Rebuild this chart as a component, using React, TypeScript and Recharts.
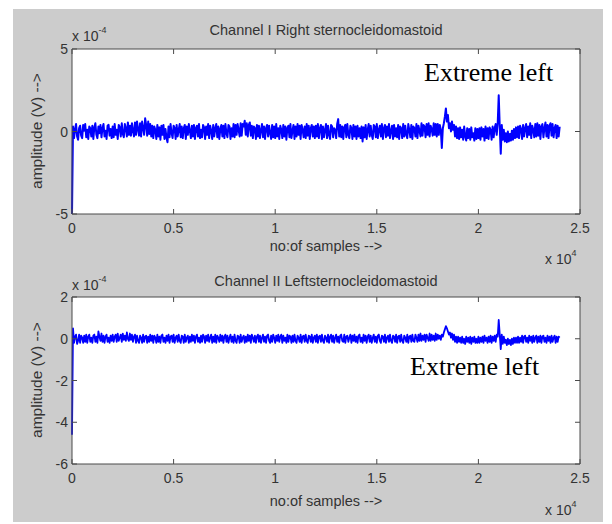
import { CartesianGrid, Line, LineChart, ReferenceLine, XAxis, YAxis } from 'recharts';

// one value every SAMPLE_STEP samples, values in units of 1e-4 V
const SAMPLE_STEP = 50;

const rightChannel = [
  -5.0, 0.3, -0.4, 0.15, 0.45, -0.3, -0.5, 0.2, 0.35, -0.25, -0.4, 0.4, 0.05, 0.45, -0.35, 0.1, -0.45, 0.3, 0.2, -0.3,
  0.35, -0.45, 0.25, 0.5, -0.2, -0.4, 0.3, -0.1, 0.4, -0.35, 0.2, 0.45, -0.3, 0.05, -0.45, 0.35, 0.4, -0.25, 0.15, -0.4,
  0.3, -0.35, 0.45, -0.2, 0.1, -0.45, 0.4, 0.25, -0.3, 0.5, -0.15, -0.35, 0.45, 0.2, -0.3, 0.55, -0.2, 0.35, -0.25, 0.5,
  0.05, -0.3, 0.55, -0.2, 0.6, 0.15, -0.25, 0.5, -0.3, 0.6, 0.2, -0.2, 0.8, 0.4, -0.25, 0.6, -0.15, 0.45, -0.3, 0.35,
  -0.4, 0.3, 0.1, -0.45, 0.4, -0.3, 0.25, -0.5, 0.35, -0.2, 0.4, -0.45, 0.15, -0.4, -0.65, 0.3, -0.35, 0.45, -0.1, -0.4,
  0.35, 0.2, -0.45, 0.4, -0.3, 0.1, 0.45, -0.35, 0.3, -0.4, 0.2, 0.4, -0.45, 0.3, -0.2, 0.45, 0.05, -0.4, 0.35, -0.3,
  0.4, -0.45, 0.2, 0.35, -0.3, 0.45, -0.4, 0.1, -0.35, 0.4, 0.25, -0.45, 0.3, -0.2, 0.45, -0.4, 0.35, 0.05, -0.45, 0.4,
  -0.3, 0.2, 0.45, -0.35, 0.3, -0.45, 0.15, 0.4, -0.3, 0.35, -0.4, 0.45, -0.1, -0.35, 0.4, 0.3, -0.45, 0.2, -0.3, 0.45,
  -0.35, 0.4, -0.2, 0.45, 0.1, -0.3, 0.5, -0.25, 0.45, 0.3, 0.65, -0.2, 0.5, -0.3, 0.4, 0.55, -0.25, 0.35, -0.4, 0.3,
  0.2, -0.45, 0.4, -0.3, 0.35, -0.4, 0.1, 0.45, -0.35, 0.3, -0.45, 0.2, 0.4, -0.3, 0.35, -0.1, -0.45, 0.4, -0.35, 0.3,
  -0.4, 0.45, -0.3, 0.2, -0.45, 0.35, 0.1, -0.4, 0.4, -0.3, 0.3, -0.5, 0.2, 0.35, -0.35, 0.45, -0.4, 0.05, 0.4, -0.45,
  0.3, -0.3, 0.45, -0.2, 0.35, -0.45, 0.4, 0.1, -0.35, 0.3, -0.4, 0.45, -0.25, 0.35, -0.45, 0.2, 0.4, -0.3, 0.3, -0.4,
  0.35, -0.3, 0.45, -0.4, 0.2, 0.4, -0.45, 0.3, -0.35, 0.1, 0.45, -0.4, 0.35, -0.2, -0.45, 0.4, 0.3, -0.35, 0.2, 0.1,
  -0.4, 0.45, 0.75, -0.3, 0.4, -0.35, 0.3, -0.45, 0.25, 0.4, -0.35, 0.45, -0.2, -0.4, 0.35, 0.2, -0.45, 0.4, -0.3, 0.3,
  -0.45, 0.35, -0.3, 0.2, -0.4, 0.3, -0.6, 0.25, -0.35, 0.4, -0.45, 0.1, 0.45, -0.3, 0.35, -0.2, -0.45, 0.4, 0.3, -0.35,
  0.45, -0.4, 0.1, 0.35, -0.3, 0.45, -0.45, 0.2, 0.4, -0.35, 0.3, -0.25, 0.45, -0.4, 0.05, 0.35, -0.45, 0.4, -0.3, 0.2,
  -0.35, 0.4, -0.45, 0.3, 0.2, -0.4, 0.45, -0.3, 0.35, -0.2, -0.4, 0.45, 0.1, -0.35, 0.4, -0.45, 0.3, 0.2, -0.3, 0.45,
  -0.4, 0.35, 0.05, -0.3, 0.5, -0.25, 0.4, 0.3, -0.35, 0.45, -0.2, 0.5, -0.3, 0.35, 0.15, -0.25, 0.5, -0.2, 0.45, -0.3,
  0.45, -0.2, 0.4, 0.1, -1.0, 0.2, 0.5, 0.9, 1.4, 0.6, 1.0, 0.2, 0.5, 0.0, 0.6, 0.1, 0.4, -0.3, 0.3, -0.4,
  0.2, -0.45, 0.25, -0.35, 0.1, -0.5, 0.3, -0.3, -0.55, 0.2, -0.4, 0.15, -0.5, 0.25, -0.35, -0.1, -0.55, 0.2, -0.45, 0.15,
  -0.4, 0.2, -0.5, 0.25, -0.3, 0.15, -0.55, 0.3, -0.4, 0.2, -0.45, 0.25, 0.1, -0.5, 0.3, -0.35, 0.2, 0.45, -0.2, 0.5,
  2.2, 0.3, -1.35, 0.4, -0.5, 0.1, -0.6, -0.1, -0.65, 0.0, -0.6, -0.15, -0.55, 0.05, -0.5, 0.15, -0.4, 0.25, -0.35, 0.3,
  -0.4, 0.35, 0.15, -0.45, 0.4, -0.3, 0.2, 0.45, -0.35, 0.3, -0.2, 0.5, -0.4, 0.35, 0.1, -0.35, 0.45, -0.3, 0.5, -0.25,
  0.4, -0.45, 0.3, 0.45, -0.35, 0.2, 0.55, -0.3, 0.4, -0.4, 0.35, 0.5, -0.25, 0.45, -0.35, 0.2, 0.4, -0.4, 0.35, -0.3,
  0.3,
];

const leftChannel = [
  -4.6, 0.5, -0.2, 0.1, 0.2, -0.25, -0.1, 0.2, -0.2, 0.15, 0.05, -0.2, 0.15, -0.15, 0.2, -0.2, 0.1, 0.2, -0.15, 0.05,
  -0.2, 0.15, 0.2, -0.15, 0.1, -0.2, 0.35, 0.1, -0.1, 0.25, -0.15, 0.15, -0.2, 0.1, 0.2, -0.15, 0.05, -0.2, 0.15, -0.1,
  0.2, -0.15, 0.1, 0.2, -0.15, 0.25, -0.1, 0.05, 0.2, -0.15, 0.25, -0.05, 0.15, -0.1, 0.3, 0.0, -0.1, 0.25, -0.05, 0.2,
  -0.15, 0.1, 0.2, -0.2, 0.15, -0.1, -0.2, 0.15, 0.05, -0.2, 0.2, -0.15, 0.1, 0.15, -0.2, 0.1, -0.15, 0.2, -0.1, 0.15,
  -0.2, 0.15, 0.05, -0.2, 0.2, -0.15, 0.1, -0.2, 0.15, 0.2, -0.15, 0.05, -0.2, 0.15, -0.1, 0.2, -0.2, 0.1, 0.15, -0.15,
  0.2, -0.2, 0.05, 0.15, -0.15, 0.2, -0.1, -0.2, 0.15, 0.1, -0.2, 0.2, -0.15, 0.05, 0.15, -0.2, 0.1, -0.15, 0.2, -0.1,
  0.15, -0.2, 0.1, 0.2, -0.15, 0.05, -0.2, 0.15, -0.15, 0.2, 0.1, -0.2, 0.15, -0.1, 0.2, -0.15, 0.05, 0.2, -0.2, 0.1,
  -0.15, 0.2, -0.2, 0.15, 0.05, -0.15, 0.2, -0.1, 0.15, -0.2, 0.1, 0.2, -0.15, 0.15, -0.2, 0.05, 0.2, -0.15, 0.1, -0.2,
  0.2, -0.1, -0.2, 0.15, 0.1, -0.2, 0.2, -0.15, 0.05, 0.15, -0.2, 0.1, -0.15, 0.2, -0.1, 0.15, -0.2, 0.2, 0.05, -0.15,
  0.15, -0.2, 0.1, 0.2, -0.15, 0.15, -0.2, 0.05, 0.2, -0.15, 0.1, -0.2, 0.15, 0.2, -0.1, -0.2, 0.15, -0.15, 0.2, 0.05,
  -0.2, 0.15, -0.1, 0.2, -0.15, 0.1, 0.2, -0.2, 0.15, -0.1, 0.05, -0.2, 0.2, -0.15, 0.15, 0.1, -0.2, 0.15, -0.15, 0.2,
  -0.1, -0.2, 0.15, 0.05, -0.15, 0.2, -0.2, 0.1, 0.15, -0.15, 0.2, -0.1, -0.2, 0.15, 0.1, -0.15, 0.2, -0.2, 0.05, 0.15,
  -0.15, 0.2, -0.2, 0.1, 0.15, -0.15, 0.2, -0.1, -0.2, 0.15, 0.05, -0.15, 0.2, -0.2, 0.1, 0.2, -0.15, 0.15, -0.2, 0.05,
  0.2, -0.15, 0.1, -0.2, 0.15, 0.2, -0.1, -0.15, 0.2, -0.2, 0.1, 0.15, -0.15, 0.05, 0.2, -0.2, 0.15, -0.1, 0.2, -0.15,
  0.1, -0.2, 0.15, 0.2, -0.15, 0.05, -0.2, 0.2, -0.1, 0.15, -0.2, 0.1, 0.2, -0.15, 0.15, -0.2, 0.05, 0.2, -0.15, 0.1,
  -0.2, 0.15, 0.2, -0.1, -0.2, 0.15, 0.1, -0.15, 0.2, -0.2, 0.05, 0.15, -0.15, 0.2, -0.1, -0.2, 0.15, 0.1, -0.15, 0.2,
  -0.2, 0.1, 0.15, -0.15, 0.2, -0.1, -0.2, 0.15, 0.05, -0.15, 0.2, -0.2, 0.1, 0.15, -0.15, 0.2, -0.1, -0.15, 0.2, 0.05,
  -0.15, 0.2, -0.1, 0.25, -0.1, 0.15, -0.05, 0.2, -0.15, 0.2, 0.05, -0.1, 0.25, -0.1, 0.2, -0.05, 0.15, -0.1, 0.25, -0.05,
  0.2, 0.0, 0.15, -0.05, 0.2, 0.1, 0.3, 0.45, 0.6, 0.5, 0.35, 0.2, 0.3, 0.05, 0.25, -0.05, 0.2, -0.15, 0.1, -0.2,
  0.1, -0.15, 0.05, -0.2, 0.1, -0.2, 0.0, -0.25, 0.1, -0.15, 0.05, -0.2, 0.1, -0.25, 0.05, -0.15, 0.1, -0.2, 0.0, -0.2,
  0.1, -0.2, 0.05, -0.15, 0.1, -0.2, 0.15, -0.1, 0.05, -0.2, 0.1, -0.15, 0.15, -0.2, 0.1, -0.1, 0.15, -0.15, 0.2, 0.1,
  0.9, 0.2, -0.5, 0.2, -0.25, 0.1, -0.2, -0.05, -0.3, 0.0, -0.25, -0.05, -0.3, 0.0, -0.25, 0.05, -0.2, 0.05, -0.2, 0.1,
  -0.2, 0.05, -0.15, 0.15, -0.2, 0.1, 0.15, -0.15, 0.05, -0.2, 0.15, -0.1, 0.1, -0.2, 0.15, -0.15, 0.05, 0.15, -0.2, 0.1,
  -0.15, 0.15, -0.2, 0.1, 0.15, -0.15, 0.05, -0.2, 0.15, -0.1, 0.1, -0.2, 0.15, -0.15, 0.05, 0.15, -0.2, 0.1, -0.15, 0.1,
  0.05,
];

const xTicks = [0, 5000, 10000, 15000, 20000, 25000];
const xTickLabels = ['0', '0.5', '1', '1.5', '2', '2.5'];
const rightTicks = [-5, 0, 5];
const leftTicks = [-6, -4, -2, 0, 2];

const rows = rightChannel.map((v, i) => ({ sample: i * SAMPLE_STEP, right: v, left: leftChannel[i] }));

const FRAME = '#4a4a4a';
const TEXT = '#333';
const SANS = '"Liberation Sans", Arial, sans-serif';
const SERIF = '"Liberation Serif", "Times New Roman", serif';

const W = 612;
const H = 262;
const PLOT_LEFT = 72;
const PLOT_RIGHT = 580;

function xTick(top: number, bottom: number) {
  return (props: any) => {
    const { x, payload } = props;
    const idx = xTicks.indexOf(payload.value);
    return (
      <g>
        <line x1={x} x2={x} y1={bottom} y2={bottom - 5} stroke={FRAME} />
        <line x1={x} x2={x} y1={top} y2={top + 5} stroke={FRAME} />
        <text x={x} y={bottom + 19} textAnchor="middle" fontFamily={SANS} fontSize={14} fill={TEXT}>
          {xTickLabels[idx]}
        </text>
      </g>
    );
  };
}

function yTick(props: any) {
  const { y, payload } = props;
  return (
    <g>
      <line x1={PLOT_LEFT} x2={PLOT_LEFT + 5} y1={y} y2={y} stroke={FRAME} />
      <line x1={PLOT_RIGHT} x2={PLOT_RIGHT - 5} y1={y} y2={y} stroke={FRAME} />
      <text x={PLOT_LEFT - 4} y={y + 5} textAnchor="end" fontFamily={SANS} fontSize={14} fill={TEXT}>
        {payload.value}
      </text>
    </g>
  );
}

interface PanelProps {
  top: number;
  plotTop: number;
  plotBottom: number;
  dataKey: 'right' | 'left';
  ticks: number[];
  strokeWidth: number;
}

function Panel({ top, plotTop, plotBottom, dataKey, ticks, strokeWidth }: PanelProps) {
  const domain = [ticks[0], ticks[ticks.length - 1]];
  return (
    <div style={{ position: 'absolute', left: 0, top, width: W, height: H }}>
      <LineChart
        width={W}
        height={H}
        data={rows}
        margin={{ top: plotTop, left: PLOT_LEFT - 30, right: W - PLOT_RIGHT, bottom: H - plotBottom - 30 }}
      >
        <CartesianGrid fill="#fff" horizontal={false} vertical={false} />
        <XAxis
          dataKey="sample"
          type="number"
          domain={[0, 25000]}
          ticks={xTicks}
          height={30}
          axisLine={{ stroke: FRAME }}
          tickLine={false}
          tick={xTick(plotTop, plotBottom)}
          interval={0}
        />
        <YAxis
          type="number"
          domain={domain}
          ticks={ticks}
          width={30}
          axisLine={{ stroke: FRAME }}
          tickLine={false}
          tick={yTick}
          interval={0}
          allowDataOverflow
        />
        <ReferenceLine x={25000} stroke={FRAME} />
        <ReferenceLine y={domain[1]} stroke={FRAME} />
        <Line
          dataKey={dataKey}
          stroke="#0000ff"
          strokeWidth={strokeWidth}
          strokeLinejoin="round"
          dot={false}
          isAnimationActive={false}
          type="linear"
        />
      </LineChart>
    </div>
  );
}

const label = (extra: React.CSSProperties): React.CSSProperties => ({
  position: 'absolute',
  fontFamily: SANS,
  fontSize: 14,
  color: TEXT,
  whiteSpace: 'nowrap',
  lineHeight: 1,
  ...extra,
});

const centered = (x: number, y: number, extra: React.CSSProperties = {}) =>
  label({ left: x, top: y, transform: 'translate(-50%, -50%)', ...extra });

function Exponent({ x, y, power }: { x: number; y: number; power: string }) {
  return (
    <div style={label({ left: x, top: y })}>
      x 10<sup style={{ fontSize: 9, position: 'relative', top: -2 }}>{power}</sup>
    </div>
  );
}

const note = (left: number, top: number): React.CSSProperties => ({
  position: 'absolute',
  left,
  top,
  fontFamily: SERIF,
  fontSize: 26,
  lineHeight: 1,
  color: '#000',
  whiteSpace: 'nowrap',
});

export default function App() {
  return (
    <div style={{ position: 'absolute', left: 0, top: 0, width: 612, height: 524, background: '#fff', overflow: 'hidden' }}>
      <div style={{ position: 'absolute', left: 13, top: 9, width: 590, height: 513, background: '#cccccc' }} />

      <div style={centered(326, 30, { fontSize: 14.5 })}>Channel I Right sternocleidomastoid</div>
      <Exponent x={72} y={28} power="-4" />
      <Panel top={0} plotTop={49} plotBottom={214} dataKey="right" ticks={rightTicks} strokeWidth={2} />
      <div style={centered(326, 246, { fontSize: 14.5 })}>no:of samples --&gt;</div>
      <Exponent x={545} y={251} power="4" />
      <div style={centered(37, 131, { fontSize: 15.5, transform: 'translate(-50%, -50%) rotate(-90deg)' })}>
        amplitude (V) --&gt;
      </div>

      <div style={centered(326, 281, { fontSize: 14.5 })}>Channel II Leftsternocleidomastoid</div>
      <Exponent x={72} y={277} power="-4" />
      <Panel top={262} plotTop={35} plotBottom={202} dataKey="left" ticks={leftTicks} strokeWidth={1.8} />
      <div style={centered(326, 501, { fontSize: 14.5 })}>no:of samples --&gt;</div>
      <Exponent x={545} y={502} power="4" />
      <div style={centered(37, 380, { fontSize: 15.5, transform: 'translate(-50%, -50%) rotate(-90deg)' })}>
        amplitude (V) --&gt;
      </div>

      <div style={note(424, 60)}>Extreme left</div>
      <div style={note(410, 354)}>Extreme left</div>
    </div>
  );
}
